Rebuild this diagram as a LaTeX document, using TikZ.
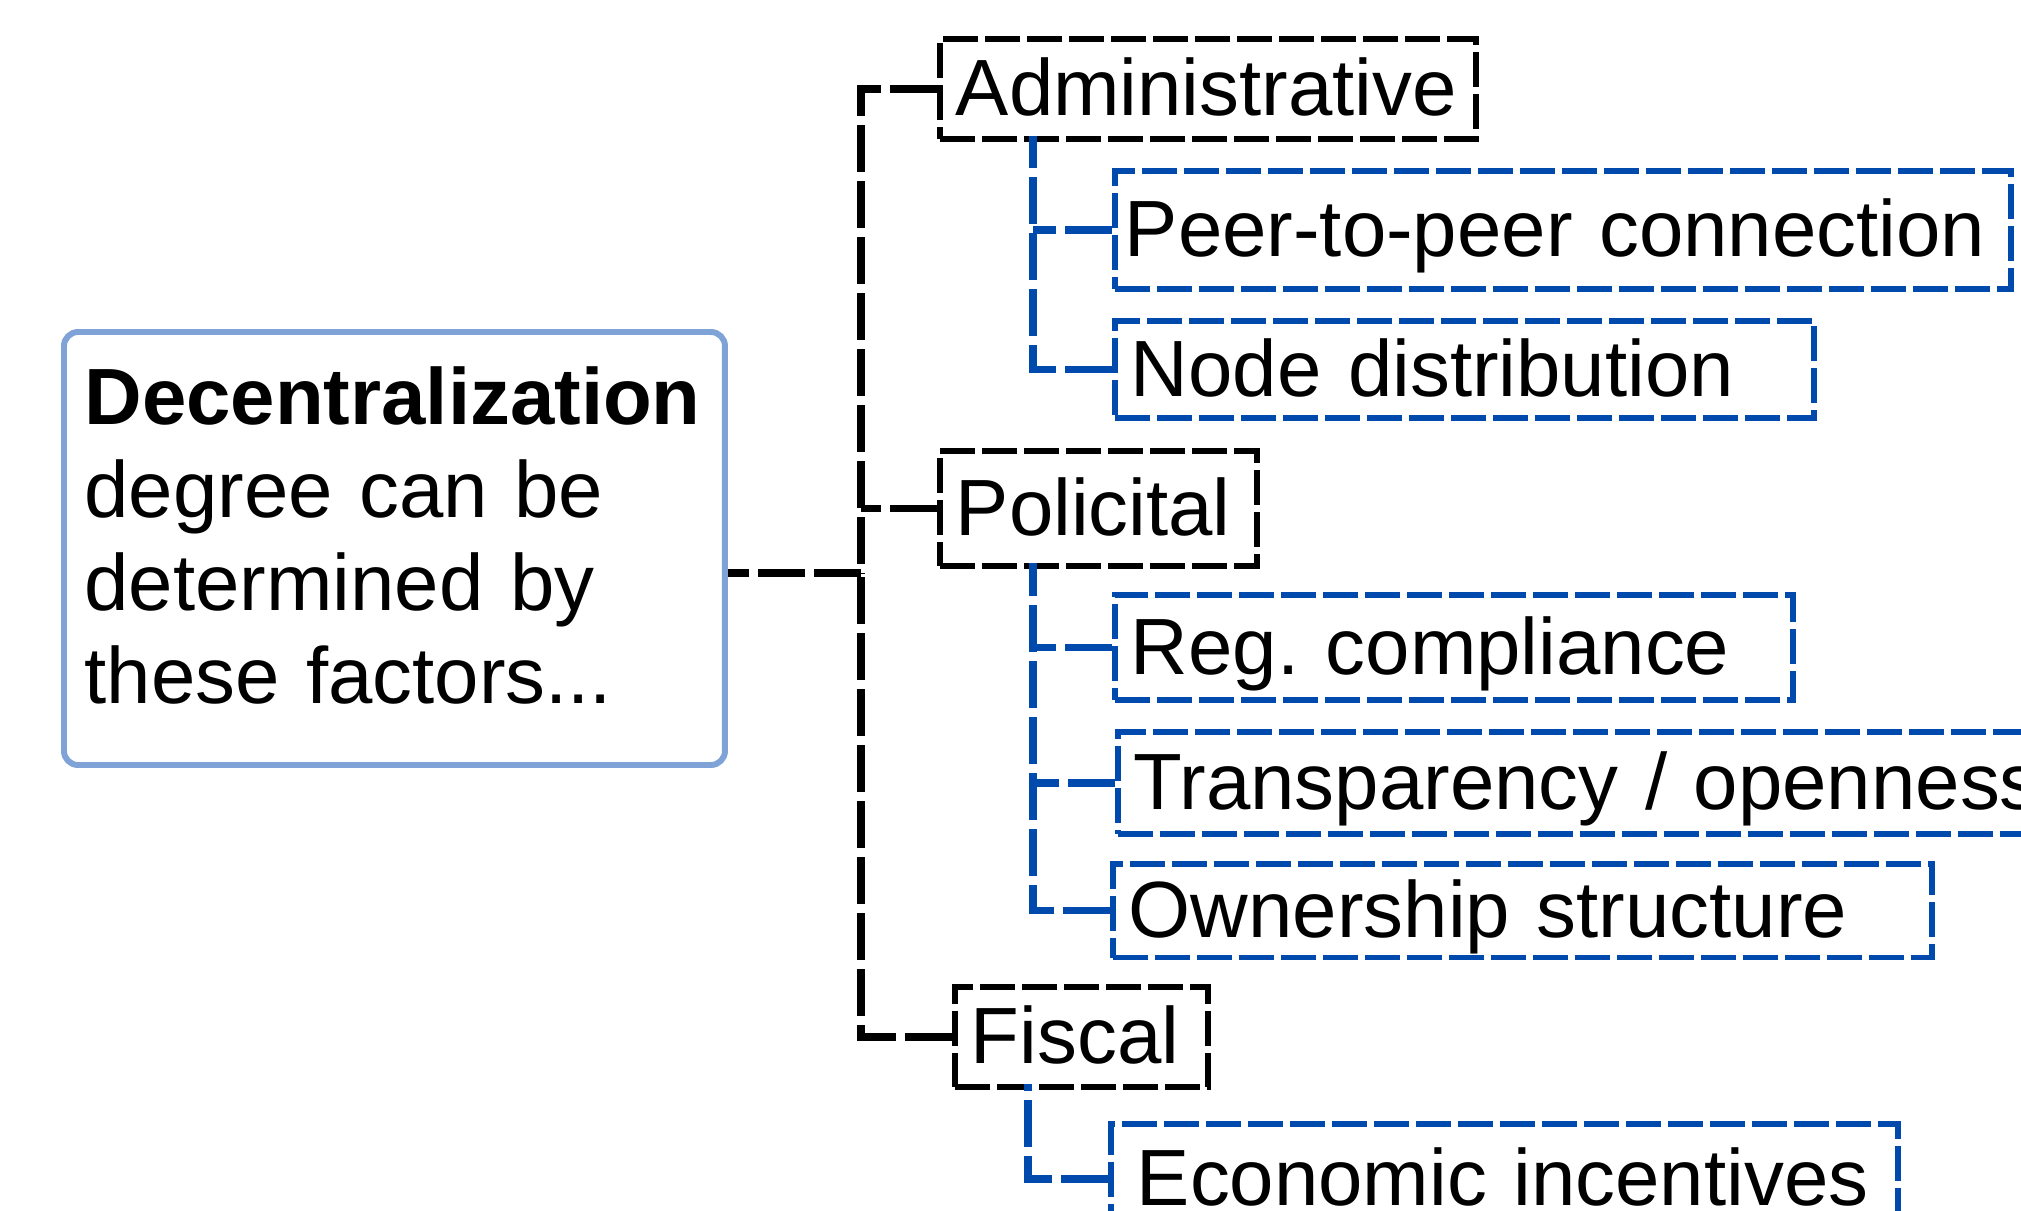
\documentclass[tikz,border=0pt]{standalone}
\usepackage{fontspec}
\setmainfont{Liberation Sans}
\usetikzlibrary{positioning}
\definecolor{dzBlue}{RGB}{0,74,173}
\definecolor{dzSoft}{RGB}{127,163,215}
\frenchspacing

\begin{document}
\begin{tikzpicture}[
    x=0.1mm, y=-0.1mm,
    font=\fontsize{22.7}{26.5}\selectfont,
    root/.style={draw=dzSoft, line width=1.7pt, rounded corners=4pt, align=left, anchor=north west, inner xsep=2.05mm, text width=62mm, minimum height=43.3mm, text height=17.7pt, text depth=88.3pt},
    factor/.style={draw=black, line width=1.6pt, dash pattern=on 3.5mm off 0.7mm, align=left, anchor=north west, inner xsep=1.6mm, text height=17.7pt, text depth=2.3pt},
    leaf/.style={factor, draw=dzBlue},
    link/.style={line width=2.1pt, dash pattern=on 4.7mm off 0.9mm},
    twig/.style={link, dzBlue}
  ]
    \useasboundingbox (0,0) rectangle (2021,1210);
    \node[root] (deg) at (61,329) {\textbf{Decentralization}\\degree can be\\determined by\\these factors...};
    % first level
    \node[factor, text width=50.4mm, minimum height=10mm] (adm) at (937,36) {Administrative};
    \node[factor, text width=28.5mm, minimum height=11.5mm] (pol) at (937,448) {Policital};
    \node[factor, text width=22.1mm, minimum height=10mm] (fis) at (952,984) {Fiscal};
    % second level
    \node[leaf, inner xsep=1mm, text width=87.6mm, minimum height=11.8mm] (p2p) at (1112,168) {Peer-to-peer connection};
    \node[leaf, text width=66.7mm, minimum height=9.7mm] (nod) at (1112,318) {Node distribution};
    \node[leaf, text width=64.6mm, minimum height=10.5mm] (reg) at (1112,592) {Reg. compliance};
    \node[leaf, text width=91.8mm, minimum height=10.2mm] (tra) at (1115,729) {Transparency / openness};
    \node[leaf, text width=78.7mm, minimum height=9.2mm] (own) at (1110,861) {Ownership structure};
    \node[leaf, inner xsep=2.6mm, text width=73.5mm, minimum height=11mm] (eco) at (1108,1121) {Economic incentives};
    % spine and drops
    \coordinate (spine) at (861,573);
    \coordinate (admfoot) at (1033,136);
    \coordinate (polfoot) at (1033,563);
    \coordinate (fisfoot) at (1028,1084);
    \draw[link] (spine) -- (spine -| deg.east);
    \draw[link] (adm.west) -| (spine);
    \draw[link] (pol.west) -- (pol.west -| spine);
    \draw[link] (fis.west) -| (spine);
    \draw[twig] (nod.west) -| (admfoot);
    \draw[twig] (p2p.west) -- (p2p.west -| admfoot);
    \draw[twig] (own.west) -| (polfoot);
    \draw[twig] (reg.west) -- (reg.west -| polfoot);
    \draw[twig] (tra.west) -- (tra.west -| polfoot);
    \draw[twig] (eco.west) -| (fisfoot);
\end{tikzpicture}
\end{document}
